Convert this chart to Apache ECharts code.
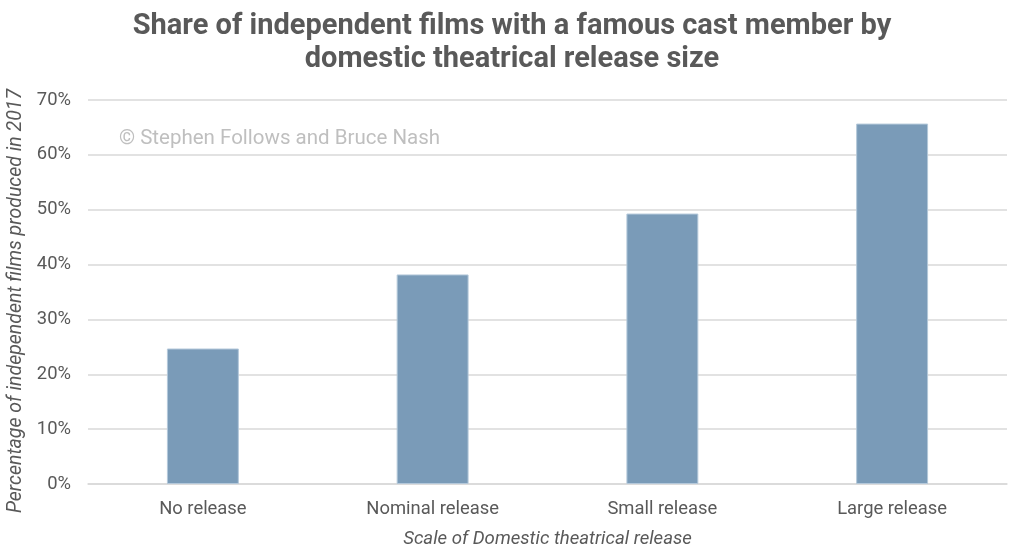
<!DOCTYPE html>
<html>
<head>
<meta charset="utf-8">
<script src="https://cdn.jsdelivr.net/npm/echarts@6/dist/echarts.min.js"></script>
<style>
  html, body { margin: 0; padding: 0; background: #fff; }
  #chart { width: 1024px; height: 560px; }
</style>
</head>
<body>
<div id="chart"></div>
<script>
var categories = ['No release', 'Nominal release', 'Small release', 'Large release'];
var shares = [24.7, 38.2, 49.3, 65.7];
var yTicks = [0, 10, 20, 30, 40, 50, 60, 70];

var textGrey = '#595959';
var font = 'Roboto';

var myChart = echarts.init(document.getElementById('chart'));

var option = {
    animation: false,
    title: {
        text: 'Share of independent films with a famous cast member by\ndomestic theatrical release size',
        left: 'center',
        top: 5,
        textStyle: {
            fontFamily: font,
            fontWeight: 'bold',
            fontSize: 29,
            lineHeight: 33,
            color: textGrey
        }
    },
    grid: {
        left: 88,
        right: 17,
        top: 100,
        bottom: 76,
        containLabel: false,
        outerBoundsMode: 'none'
    },
    graphic: [{
        type: 'text',
        left: 119,
        top: 128,
        style: {
            text: '\u00a9 Stephen Follows and Bruce Nash',
            fontFamily: font,
            fontSize: 20.5,
            fill: '#bfbfbf'
        }
    }],
    xAxis: {
        type: 'category',
        data: categories,
        name: 'Scale of Domestic theatrical release',
        nameLocation: 'middle',
        nameGap: 46,
        nameTextStyle: {
            fontFamily: font,
            fontStyle: 'italic',
            fontSize: 18.6,
            color: textGrey
        },
        axisLine: { lineStyle: { color: '#d9d9d9', width: 1.5 } },
        axisTick: { show: false },
        axisLabel: {
            fontFamily: font,
            fontSize: 18.4,
            color: textGrey,
            margin: 16
        }
    },
    yAxis: {
        type: 'value',
        min: yTicks[0],
        max: yTicks[yTicks.length - 1],
        interval: 10,
        name: 'Percentage of independent films produced in 2017',
        nameLocation: 'middle',
        nameGap: 54,
        nameTextStyle: {
            fontFamily: font,
            fontStyle: 'italic',
            fontSize: 19.5,
            color: textGrey,
            padding: [0, 18, 0, 0]
        },
        axisLine: { show: false },
        axisTick: { show: false },
        axisLabel: {
            fontFamily: font,
            fontSize: 18.4,
            color: textGrey,
            margin: 17,
            formatter: '{value}%'
        },
        splitLine: { lineStyle: { color: '#d9d9d9', width: 1.5 } }
    },
    series: [{
        type: 'bar',
        data: shares,
        barWidth: '31.3%',
        itemStyle: {
            color: '#7a9bb8',
            borderColor: '#b4c8da',
            borderWidth: 1
        }
    }]
};

myChart.setOption(option);
</script>
</body>
</html>
